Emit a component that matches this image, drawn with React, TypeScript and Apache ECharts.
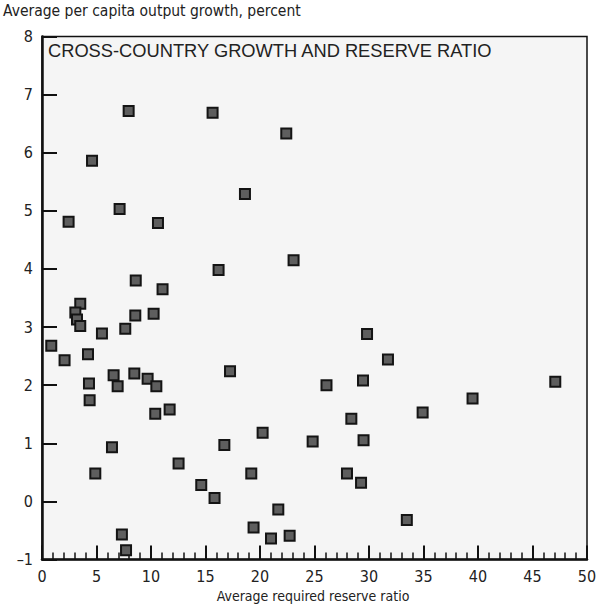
import React, { useEffect, useRef } from "react";
import * as echarts from "echarts";

const chartTitle = "CROSS-COUNTRY GROWTH AND RESERVE RATIO";
const yAxisTitle = "Average per capita output growth, percent";
const xAxisTitle = "Average required reserve ratio";

// Average required reserve ratio (x)
const reserveRatio = [
  7.95, 15.65, 22.41, 4.59, 18.62, 7.12, 2.44, 10.64, 23.08, 16.2,
  8.6, 11.06, 3.51, 3.06, 3.21, 3.51, 8.56, 10.24, 7.64, 5.5,
  0.85, 4.22, 2.07, 6.57, 8.47, 9.69, 10.49, 6.94, 4.31, 4.37,
  10.39, 11.71, 17.25, 16.73, 6.42, 12.53, 4.89, 26.1, 20.24, 24.83,
  19.2, 27.98, 14.61, 15.83, 21.68, 19.41, 21.01, 22.72, 7.33, 7.71,
  29.82, 31.74, 29.45, 47.09, 39.5, 34.92, 28.38, 29.5, 29.27, 33.47,
];
// Average per capita output growth, percent (y)
const outputGrowth = [
  6.72, 6.69, 6.33, 5.86, 5.29, 5.03, 4.81, 4.79, 4.15, 3.98,
  3.8, 3.65, 3.4, 3.25, 3.13, 3.02, 3.2, 3.23, 2.97, 2.89,
  2.68, 2.53, 2.43, 2.17, 2.2, 2.11, 1.98, 1.98, 2.03, 1.74,
  1.51, 1.58, 2.24, 0.97, 0.93, 0.65, 0.48, 2.0, 1.18, 1.03,
  0.48, 0.48, 0.28, 0.06, -0.14, -0.45, -0.64, -0.59, -0.57, -0.84,
  2.88, 2.44, 2.08, 2.06, 1.77, 1.53, 1.42, 1.05, 0.32, -0.32,
];

const narrow = "'Liberation Sans Narrow', 'DejaVu Sans Condensed', 'Roboto Condensed', sans-serif";
const regular = "'Liberation Sans', Arial, sans-serif";

export default function App() {
  const ref = useRef<HTMLDivElement>(null);
  useEffect(() => {
    if (!ref.current) return;
    const chart = echarts.init(ref.current, undefined, { renderer: "svg" });
    const data = reserveRatio.map((x, i) => [x, outputGrowth[i]]);
    chart.setOption({
      animation: false,
      backgroundColor: "#ffffff",
      grid: {
        left: 42,
        right: 14,
        top: 36.5,
        bottom: 48.5,
        show: true,
        borderColor: "#111",
        borderWidth: 1.5,
        backgroundColor: "#f5f5f5",
      },
      xAxis: {
        type: "value",
        min: 0,
        max: 50,
        interval: 5,
        axisLine: { onZero: false, lineStyle: { color: "#111", width: 2.5 } },
        axisTick: { inside: true, length: 14, lineStyle: { color: "#111", width: 2 } },
        minorTick: { show: true, splitNumber: 5, length: 7, lineStyle: { color: "#111", width: 1.5 } },
        splitLine: { show: false },
        axisLabel: { fontSize: 16, fontFamily: narrow, color: "#222", margin: 9 },
      },
      yAxis: {
        type: "value",
        min: -1,
        max: 8,
        interval: 1,
        axisLine: { onZero: false, lineStyle: { color: "#111", width: 2.5 } },
        axisTick: { inside: true, length: 15, lineStyle: { color: "#111", width: 2 } },
        splitLine: { show: false },
        axisLabel: {
          fontSize: 16,
          fontFamily: narrow,
          color: "#222",
          margin: 9,
          formatter: (v: number) => (v < 0 ? "\u2013" + Math.abs(v) : String(v)),
        },
      },
      graphic: [
        {
          type: "text",
          left: 3,
          top: 3,
          style: { text: yAxisTitle, fontSize: 15.5, fontFamily: narrow, fill: "#222" },
        },
        {
          type: "text",
          left: 48,
          top: 41,
          style: { text: chartTitle, fontSize: 18.3, fontFamily: regular, fill: "#222" },
        },
        {
          type: "text",
          x: 313,
          y: 589,
          style: { text: xAxisTitle, fontSize: 14, fontFamily: narrow, fill: "#222", align: "center" },
        },
      ],
      series: [
        {
          type: "scatter",
          data,
          symbol: "rect",
          symbolSize: 10,
          itemStyle: { color: "#5e5e5e", borderColor: "#141414", borderWidth: 2, opacity: 1 },
        },
      ],
    });
    return () => chart.dispose();
  }, []);
  return <div ref={ref} style={{ position: "absolute", left: 0, top: 0, width: 601, height: 608 }} />;
}
